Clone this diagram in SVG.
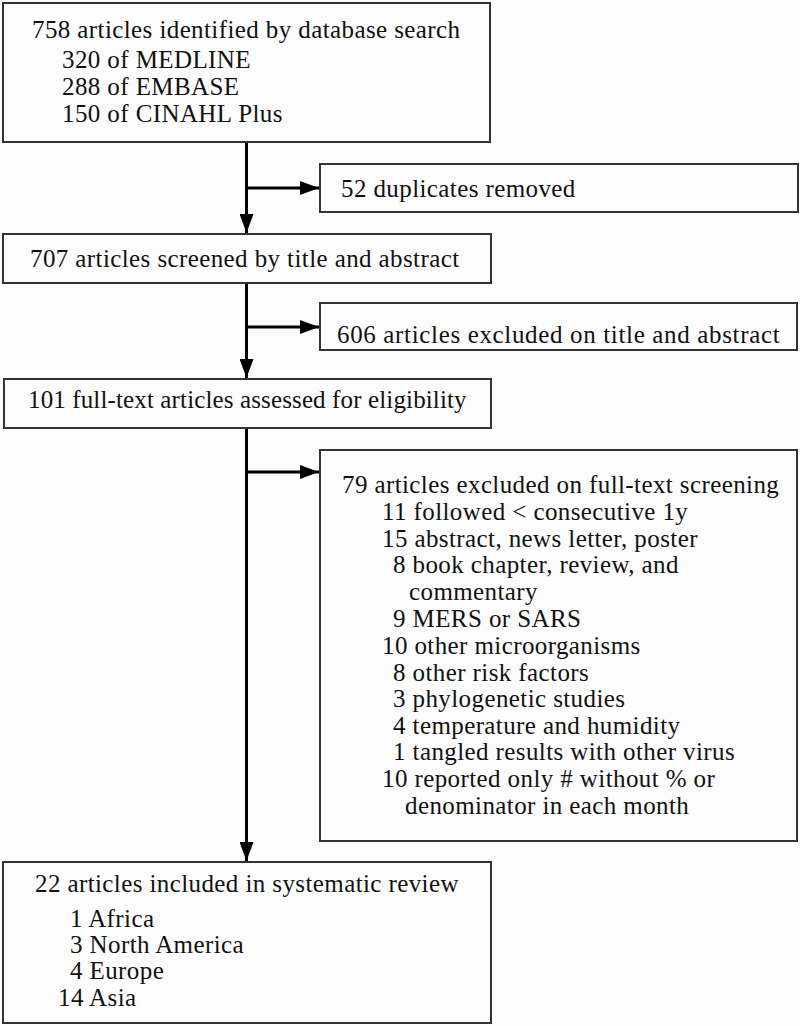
<svg xmlns="http://www.w3.org/2000/svg" width="800" height="1026" viewBox="0 0 800 1026">
<style>
.box{fill:#fcfcfc;stroke:#333;stroke-width:2}
.ln{stroke:#000;stroke-width:3;fill:none}
.t{font-family:'Liberation Serif','Times New Roman',serif;font-size:25px;letter-spacing:0.4px;fill:#111}
</style>
<defs>
<marker id="ah" markerUnits="userSpaceOnUse" markerWidth="20" markerHeight="14" refX="19" refY="7" orient="auto">
<path d="M0,0 L19,7 L0,14 Z" fill="#000"/>
</marker>
</defs>
<rect width="800" height="1026" fill="#fcfcfc"/>
<g id="connectors">
<line class="ln" x1="246.5" y1="142" x2="246.5" y2="233" marker-end="url(#ah)"/>
<line class="ln" x1="246.5" y1="188" x2="319" y2="188" marker-end="url(#ah)"/>
<line class="ln" x1="246.5" y1="284" x2="246.5" y2="378" marker-end="url(#ah)"/>
<line class="ln" x1="246.5" y1="327" x2="319" y2="327" marker-end="url(#ah)"/>
<line class="ln" x1="246.5" y1="428" x2="246.5" y2="861" marker-end="url(#ah)"/>
<line class="ln" x1="246.5" y1="472" x2="319" y2="472" marker-end="url(#ah)"/>
</g>
<g id="n1">
<rect class="box" x="3" y="3" width="487" height="139"/>
<text class="t" x="32" y="38">758 articles identified by database search</text>
<text class="t" x="62" y="68">320 of MEDLINE</text>
<text class="t" x="62" y="95">288 of EMBASE</text>
<text class="t" x="62" y="122">150 of CINAHL Plus</text>
</g>
<g id="n2">
<rect class="box" x="320" y="164" width="478" height="48"/>
<text class="t" x="341" y="197">52 duplicates removed</text>
</g>
<g id="n3">
<rect class="box" x="3" y="234" width="488" height="49"/>
<text class="t" x="30" y="267">707 articles screened by title and abstract</text>
</g>
<g id="n4">
<rect class="box" x="320" y="303" width="477" height="47"/>
<text class="t" x="337" y="343" textLength="443">606 articles excluded on title and abstract</text>
</g>
<g id="n5">
<rect class="box" x="4" y="379" width="487" height="49"/>
<text class="t" x="28" y="408" textLength="439">101 full-text articles assessed for eligibility</text>
</g>
<g id="n6">
<rect class="box" x="320" y="450" width="477" height="391"/>
<text class="t" x="342" y="493">79 articles excluded on full-text screening</text>
<text class="t" x="382" y="520">11 followed &lt; consecutive 1y</text>
<text class="t" x="382" y="547">15 abstract, news letter, poster</text>
<text class="t" x="393" y="573">8 book chapter, review, and</text>
<text class="t" x="409" y="600">commentary</text>
<text class="t" x="393" y="627">9 MERS or SARS</text>
<text class="t" x="382" y="654">10 other microorganisms</text>
<text class="t" x="393" y="681">8 other risk factors</text>
<text class="t" x="393" y="707">3 phylogenetic studies</text>
<text class="t" x="393" y="734">4 temperature and humidity</text>
<text class="t" x="393" y="760">1 tangled results with other virus</text>
<text class="t" x="382" y="787">10 reported only # without % or</text>
<text class="t" x="405" y="814">denominator in each month</text>
</g>
<g id="n7">
<rect class="box" x="3" y="862" width="488" height="161"/>
<text class="t" x="35" y="892">22 articles included in systematic review</text>
<text class="t" x="70" y="927">1 Africa</text>
<text class="t" x="70" y="953">3 North America</text>
<text class="t" x="70" y="979">4 Europe</text>
<text class="t" x="58" y="1006">14 Asia</text>
</g>
</svg>
